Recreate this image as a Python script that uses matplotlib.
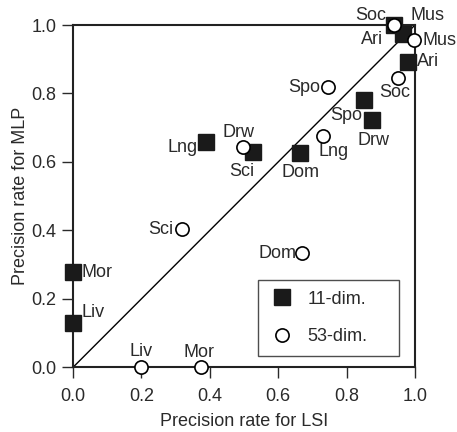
import matplotlib
matplotlib.use("Agg")
import matplotlib.pyplot as plt

plt.rcParams['font.family'] = ['Liberation Sans', 'DejaVu Sans']

# 11-dim (filled squares)
names11 = ["Mor", "Liv", "Lng", "Sci", "Dom", "Spo", "Drw", "Ari", "Soc", "Mus"]
x11 = [0.0, 0.0, 0.39, 0.525, 0.665, 0.85, 0.875, 0.98, 0.94, 0.965]
y11 = [0.278, 0.13, 0.658, 0.63, 0.626, 0.78, 0.722, 0.893, 1.0, 0.975]

# 53-dim (open circles)
names53 = ["Liv", "Mor", "Sci", "Drw", "Lng", "Spo", "Soc", "Mus", "Dom", "Ari"]
x53 = [0.2, 0.375, 0.318, 0.497, 0.731, 0.746, 0.95, 0.998, 0.67, 0.94]
y53 = [0.0, 0.0, 0.403, 0.643, 0.676, 0.818, 0.845, 0.955, 0.333, 1.0]

# label offsets in pixels (dx, dy, ha)
off11 = {"Mor": (8, 0, "left"), "Liv": (8, 10, "left"), "Lng": (-9, -5, "right"),
         "Sci": (-11, -20, "center"), "Dom": (0, -19, "center"), "Spo": (-17, -15, "center"),
         "Drw": (1, -20, "center"), "Ari": (9, 0, "left"), "Soc": (-24, 10, "center"),
         "Mus": (25, 18, "center")}
off53 = {"Liv": (0, 16, "center"), "Mor": (-2, 15, "center"), "Sci": (-8, 0, "right"),
         "Drw": (-5, 15, "center"), "Lng": (-5, -16, "left"), "Spo": (-8, 0, "right"),
         "Soc": (-3, -14, "center"), "Mus": (8, 0, "left"), "Dom": (-6, 0, "right"),
         "Ari": (-22, -14, "center")}

fig = plt.figure(figsize=(4.57, 4.32), dpi=100)
ax = fig.add_axes([0.160, 0.150, 0.748, 0.792])

ax.plot([0, 1], [0, 1], color='black', lw=1.0, zorder=1)

ax.plot(x11, y11, linestyle='none', marker='s', markersize=11, color='#1a1a1a',
        markeredgecolor='#1a1a1a', clip_on=False, zorder=3, label='11-dim.')
ax.plot(x53, y53, linestyle='none', marker='o', markersize=9.5, markerfacecolor='white',
        markeredgecolor='black', markeredgewidth=1.2, clip_on=False, zorder=4, label='53-dim.')

fs = 13
tc = '#2a2a2a'
for n, x, y in zip(names11, x11, y11):
    dx, dy, ha = off11[n]
    ax.annotate(n, (x, y), xytext=(dx, dy), textcoords='offset pixels', ha=ha, va='center',
                fontsize=fs, color=tc, annotation_clip=False)
for n, x, y in zip(names53, x53, y53):
    dx, dy, ha = off53[n]
    ax.annotate(n, (x, y), xytext=(dx, dy), textcoords='offset pixels', ha=ha, va='center',
                fontsize=fs, color=tc, annotation_clip=False)

ax.set_xlim(0, 1)
ax.set_ylim(0, 1)
ticks = [0.0, 0.2, 0.4, 0.6, 0.8, 1.0]
ax.set_xticks(ticks)
ax.set_yticks(ticks)
ax.set_xticklabels([f"{t:.1f}" for t in ticks])
ax.set_yticklabels([f"{t:.1f}" for t in ticks])
ax.tick_params(direction='out', length=8, width=1, labelsize=13, colors=tc)
ax.tick_params(axis='x', pad=7)
ax.tick_params(axis='y', pad=4)
for s in ax.spines.values():
    s.set_linewidth(1.5)
    s.set_color('#222222')

ax.set_xlabel("Precision rate for LSI", fontsize=13, color=tc, labelpad=6)
ax.set_ylabel("Precision rate for MLP", fontsize=13, color=tc, labelpad=2)

leg = ax.legend(loc='lower left', bbox_to_anchor=(0.541, 0.032, 0.412, 0.231), mode='expand',
                frameon=True, fancybox=False, edgecolor='#222222', fontsize=13,
                borderpad=0.6, labelspacing=1.15, handletextpad=0.65, handlelength=1.5,
                borderaxespad=0)
leg.get_frame().set_linewidth(1.0)
for t in leg.get_texts():
    t.set_color(tc)

fig.savefig("out.png", dpi=100)
